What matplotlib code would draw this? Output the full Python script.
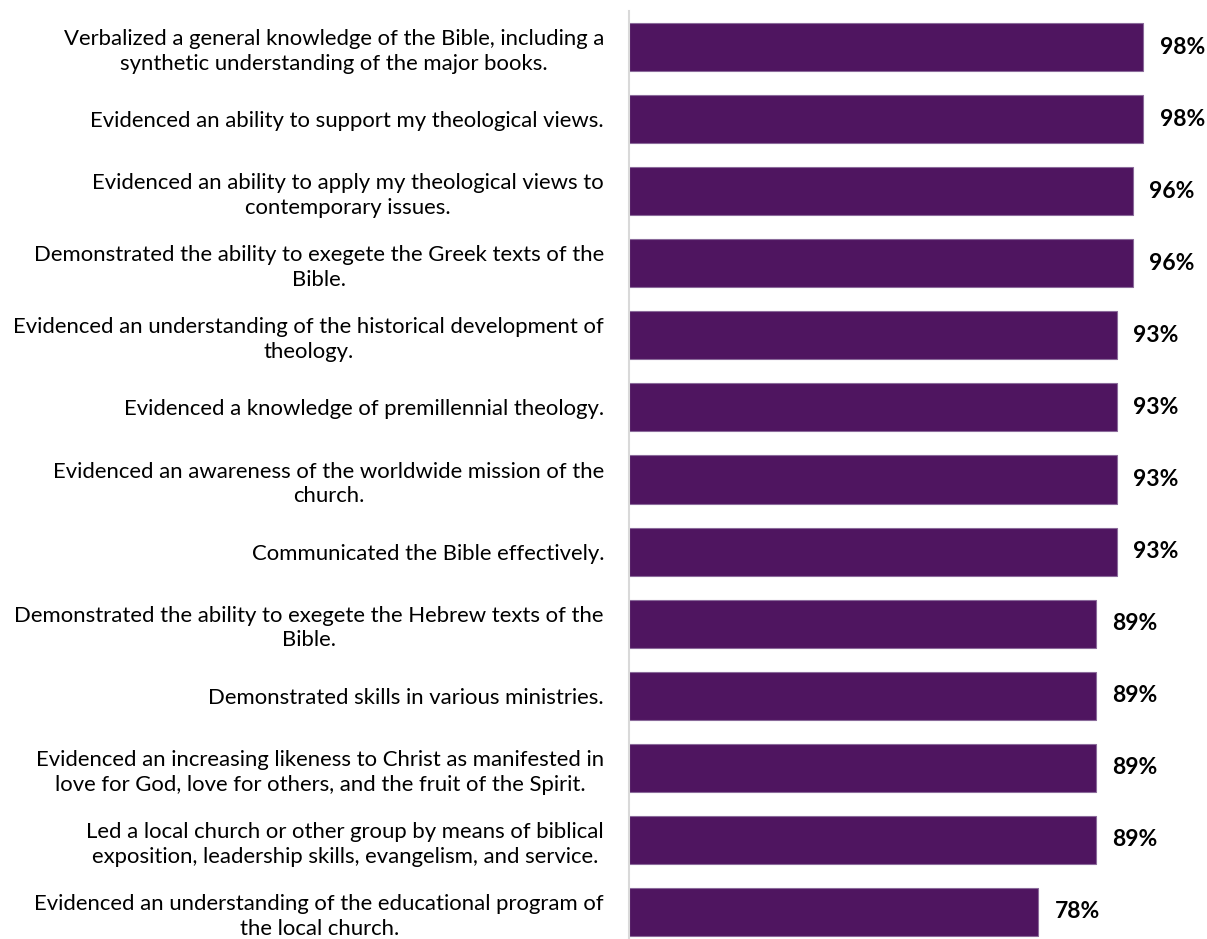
import matplotlib.pyplot as plt

labels = [
    "Verbalized a general knowledge of the Bible, including a\nsynthetic understanding of the major books.",
    "Evidenced an ability to support my theological views.",
    "Evidenced an ability to apply my theological views to\ncontemporary issues.",
    "Demonstrated the ability to exegete the Greek texts of the\nBible.",
    "Evidenced an understanding of the historical development of\ntheology.",
    "Evidenced a knowledge of premillennial theology.",
    "Evidenced an awareness of the worldwide mission of the\nchurch.",
    "Communicated the Bible effectively.",
    "Demonstrated the ability to exegete the Hebrew texts of the\nBible.",
    "Demonstrated skills in various ministries.",
    "Evidenced an increasing likeness to Christ as manifested in\nlove for God, love for others, and the fruit of the Spirit.",
    "Led a local church or other group by means of biblical\nexposition, leadership skills, evangelism, and service.",
    "Evidenced an understanding of the educational program of\nthe local church.",
]
values = [98, 98, 96, 96, 93, 93, 93, 93, 89, 89, 89, 89, 78]

plt.rcParams['font.family'] = ['Lato', 'DejaVu Sans']

fig = plt.figure(figsize=(12.07, 9.39), dpi=100)
ax = fig.add_axes([629 / 1207, -9 / 939, 524.5 / 1207, 937 / 939])

pos = list(range(len(values)))
ax.barh(pos, values, height=0.666, color='#4F1560', edgecolor='#8A6A9A', linewidth=0.8)

# percentage labels just past the bar ends
for y, v in zip(pos, values):
    ax.annotate(f"{v}%", xy=(v, y), xytext=(12, 0), textcoords='offset points',
                ha='left', va='center', fontsize=16.5, fontweight='bold', color='black')

ax.set_xlim(0, 100)
ax.set_ylim(len(values) - 0.5, -0.5)
ax.set_yticks(pos)
ax.set_yticklabels(labels, fontsize=15.9, ha='right', multialignment='center', linespacing=1.3)
ax.tick_params(axis='y', length=0, pad=18)
ax.set_xticks([])

for s in ['top', 'right', 'bottom']:
    ax.spines[s].set_visible(False)
ax.spines['left'].set_color('#D9D9D9')
ax.spines['left'].set_linewidth(1.5)

fig.savefig('out.png', dpi=100)
